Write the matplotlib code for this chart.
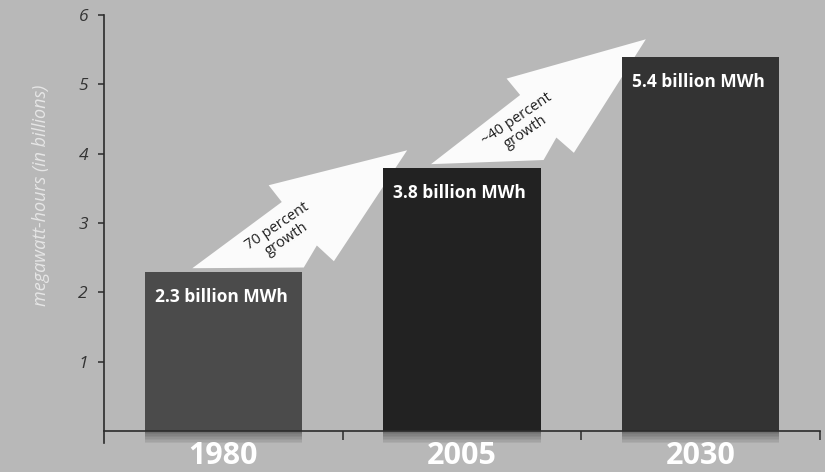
import numpy as np
import matplotlib
matplotlib.use("Agg")
import matplotlib.pyplot as plt
from matplotlib.patches import Polygon, Rectangle

plt.rcParams['font.family'] = ['Open Sans', 'DejaVu Sans']

# Consumo eléctrico (miles de millones de MWh)
years = ["1980", "2005", "2030"]
consumption = [2.3, 3.8, 5.4]
bar_labels = ["2.3 billion MWh", "3.8 billion MWh", "5.4 billion MWh"]
growth_labels = ["70 percent\ngrowth", "~40 percent\ngrowth"]
bar_colors = ["#4b4b4b", "#222222", "#333333"]

bg = "#b8b8b8"
x = np.arange(len(years))

fig = plt.figure(figsize=(8.25, 4.72), dpi=100, facecolor=bg)
ax = fig.add_axes([0.1261, 0.0614, 0.8679, 0.9068], facecolor=bg)
ax.set_xlim(-0.5, 2.5)
ax.set_ylim(-0.17, 6)

# forma de la flecha: (fracción a lo largo, desplazamiento lateral en px)
arrow_shape = [(0, 0), (0.45, 15), (0.436, 36), (1, 0),
               (0.52, -62), (0.49, -40), (0.40, -53)]


def arrow_points(tail, tip, shape):
    t = ax.transData.transform(tail)
    p = ax.transData.transform(tip)
    v = p - t
    L = np.hypot(*v)
    u = v / L
    n = np.array([-u[1], u[0]])
    pts = np.array([t + s * L * u + h * n for s, h in shape])
    return ax.transData.inverted().transform(pts)


for i in range(len(x) - 1):
    tail = (x[i] - 0.13, consumption[i] + 0.05)
    tip = (x[i + 1] - 0.23, consumption[i + 1] + 0.25)
    pts = arrow_points(tail, tip, arrow_shape)
    ax.add_patch(Polygon(pts, closed=True, facecolor="#fbfbfb",
                         edgecolor="none", zorder=1))
    tx, ty = arrow_points(tail, tip, [(0.39, -12)])[0]
    ax.text(tx, ty, growth_labels[i], rotation=34, ha="center", va="center",
            fontsize=10.5, color="#1e1e1e", linespacing=1.05,
            rotation_mode="anchor", zorder=4)

ax.bar(x, consumption, width=0.66, color=bar_colors, zorder=2)

# sombra difusa bajo las barras
for xi in x:
    for k in range(8):
        ax.add_patch(Rectangle((xi - 0.33, -0.022 * (k + 1)), 0.66, 0.022,
                               facecolor="#2a2a2a", alpha=0.5 - 0.06 * k,
                               edgecolor="none", zorder=1.5))

for xi, val, lab in zip(x, consumption, bar_labels):
    ax.text(xi - 0.01, val - 0.37, lab, ha="center", va="center",
            fontsize=12.5, fontweight="bold", color="white", zorder=3)

for side in ["top", "right"]:
    ax.spines[side].set_visible(False)
ax.spines["bottom"].set_position(("data", 0))
ax.spines["left"].set_color("#2b2b2b")
ax.spines["bottom"].set_color("#2b2b2b")
ax.spines["left"].set_linewidth(1.2)
ax.spines["bottom"].set_linewidth(1.2)
ax.spines["left"].set_zorder(5)
ax.spines["bottom"].set_zorder(5)

ax.set_yticks(range(1, 7))
ax.set_yticklabels([str(v) for v in range(1, 7)], fontstyle="italic",
                   fontsize=12.5, color="#333333")
ax.tick_params(axis="y", direction="out", length=4.5, width=1.1,
               color="#2b2b2b", pad=7)

ax.set_xticks([0.5, 1.5, 2.5])
ax.set_xticklabels([])
ax.tick_params(axis="x", which="major", direction="out", length=6.5,
               width=1.1, color="#2b2b2b")
ax.set_xticks(x, minor=True)
ax.set_xticklabels(years, minor=True, fontsize=22, fontweight="bold",
                   color="white")
ax.tick_params(axis="x", which="minor", length=0, pad=7)

ax.set_ylabel("megawatt-hours (in billions)", fontstyle="italic",
              fontsize=13, color="#e6e6e6")
ax.yaxis.set_label_coords(-0.075, 0.579)

fig.savefig("out.png", dpi=100, facecolor=bg)
